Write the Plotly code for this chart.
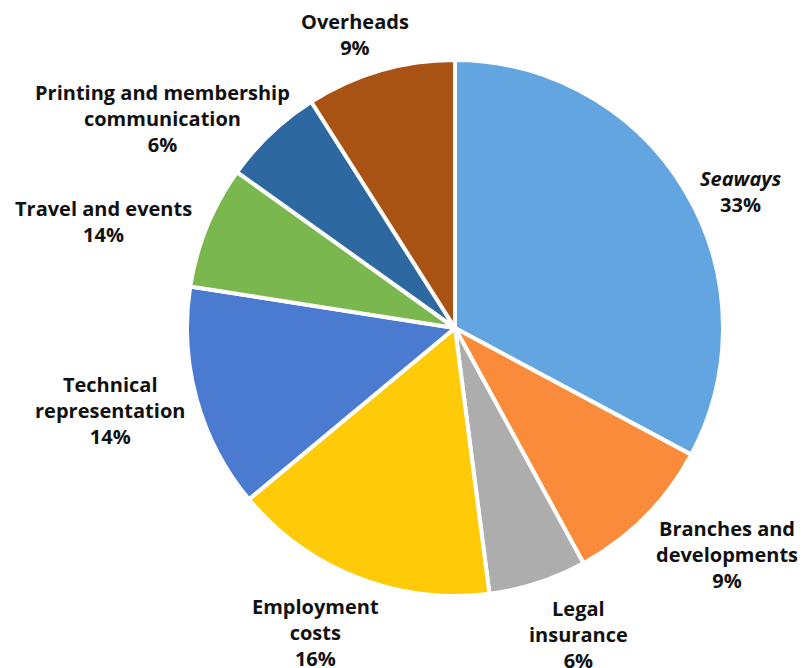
import plotly.graph_objects as go

categories = ["<i>Seaways</i>", "Branches and<br>developments", "Legal<br>insurance",
              "Employment<br>costs", "Technical<br>representation", "Travel and events",
              "Printing and membership<br>communication", "Overheads"]
values = [32.8, 9.2, 5.9, 16.0, 13.5, 7.4, 6.1, 9.0]
pct_labels = ["33%", "9%", "6%", "16%", "14%", "14%", "6%", "9%"]
colors = ["#63A5E1", "#F98B3B", "#ADADAD", "#FFCA08", "#4B7BD1", "#7AB84F", "#2D68A0", "#A85214"]

# label block centres in pixels (layout positions)
label_pos = [(741, 191), (727, 554), (578, 634), (315, 632), (110, 410), (103, 221), (162, 119), (355, 34)]

W, H = 811, 668
cx, cy, r = 455, 328, 268

fig = go.Figure(go.Pie(
    labels=categories, values=values, sort=False, direction="clockwise", rotation=0,
    marker=dict(colors=colors, line=dict(color="white", width=4)),
    textinfo="none", hoverinfo="label+percent", showlegend=False,
    domain=dict(x=[(cx - r) / W, (cx + r) / W], y=[1 - (cy + r) / H, 1 - (cy - r) / H]),
))

for cat, p, (px, py) in zip(categories, pct_labels, label_pos):
    fig.add_annotation(x=px / W, y=1 - py / H, xref="paper", yref="paper",
                       text=f"{cat}<br>{p}", showarrow=False, align="center",
                       xanchor="center", yanchor="middle",
                       font=dict(family="Open Sans", size=20, color="#111111", weight=700))

fig.update_layout(width=W, height=H, margin=dict(l=0, r=0, t=0, b=0),
                  paper_bgcolor="white", plot_bgcolor="white")
fig.write_html("out.html")
